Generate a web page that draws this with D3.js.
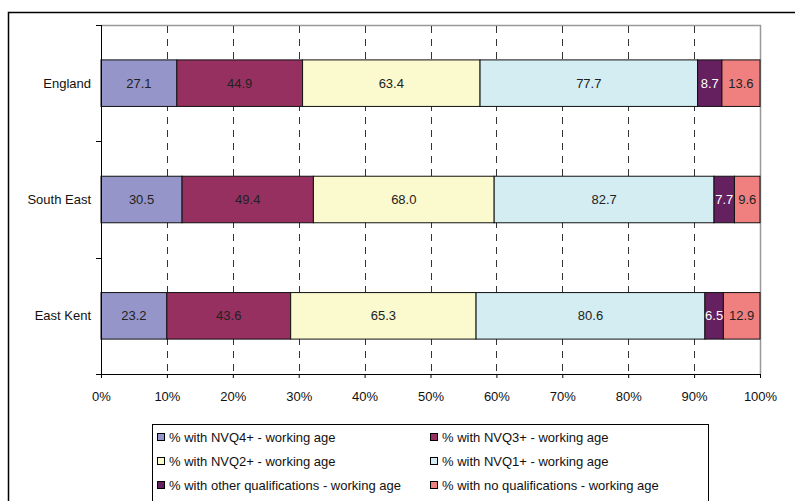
<!DOCTYPE html>
<html>
<head>
<meta charset="utf-8">
<script src="https://cdn.jsdelivr.net/npm/d3@7"></script>
<style>
  body { margin: 0; background: #fff; }
  text { font-family: "Liberation Sans", Arial, sans-serif; }
</style>
</head>
<body>
<div id="chart"></div>
<script>
const areas = ["England", "South East", "East Kent"];
const seriesNames = [
  "% with NVQ4+ - working age",
  "% with NVQ3+ - working age",
  "% with NVQ2+ - working age",
  "% with NVQ1+ - working age",
  "% with other qualifications - working age",
  "% with no qualifications - working age"
];
const nvq4 = [27.1, 30.5, 23.2];
const nvq3 = [44.9, 49.4, 43.6];
const nvq2 = [63.4, 68.0, 65.3];
const nvq1 = [77.7, 82.7, 80.6];
const other = [8.7, 7.7, 6.5];
const none = [13.6, 9.6, 12.9];
const xTicks = [0, 10, 20, 30, 40, 50, 60, 70, 80, 90, 100];

const colors = ["#9595c9", "#963060", "#fbf9ce", "#d3edf3", "#64205f", "#f08080"];
const labelColors = ["#222", "#222", "#222", "#222", "#fff", "#222"];

const W = 795, H = 501;
const M = { left: 101, right: 35, top: 25, bottom: 127 };
const innerW = W - M.left - M.right;
const innerH = H - M.top - M.bottom;
const FS = 13;

const svg = d3.select("#chart").append("svg")
  .attr("width", W).attr("height", H);

// outer chart border
svg.append("rect")
  .attr("x", 8.5).attr("y", 12.5)
  .attr("width", 820).attr("height", 520)
  .attr("fill", "none").attr("stroke", "#000").attr("stroke-width", 1.5);

const g = svg.append("g").attr("transform", `translate(${M.left},${M.top})`);

const values = [nvq4, nvq3, nvq2, nvq1, other, none];
const rows = areas.map((a, i) => {
  const row = { area: a };
  seriesNames.forEach((s, j) => row[s] = values[j][i]);
  return row;
});
const stacked = d3.stack().keys(seriesNames).offset(d3.stackOffsetExpand)(rows);

const x = d3.scaleLinear().domain([0, 1]).range([0, innerW]);
const y = d3.scaleBand().domain(areas).range([0, innerH]).paddingInner(0.6).paddingOuter(0.3);

// plot frame (top & right gray)
g.append("path")
  .attr("d", `M0,0.5H${innerW + 0.5}V${innerH}`)
  .attr("fill", "none").attr("stroke", "#999").attr("stroke-width", 1.5);

// dashed gridlines
g.selectAll(".grid").data(xTicks.slice(1, -1)).join("line")
  .attr("x1", d => Math.round(x(d / 100)) + 0.5).attr("x2", d => Math.round(x(d / 100)) + 0.5)
  .attr("y1", 1).attr("y2", innerH)
  .attr("stroke", "#333").attr("stroke-width", 1)
  .attr("stroke-dasharray", "7,6");

// bars
const layer = g.selectAll(".layer").data(stacked).join("g")
  .attr("fill", (d, i) => colors[i]);
layer.selectAll("rect").data(d => d).join("rect")
  .attr("x", d => x(d[0]))
  .attr("width", d => x(d[1]) - x(d[0]))
  .attr("y", d => y(d.data.area))
  .attr("height", y.bandwidth())
  .attr("stroke", "#111").attr("stroke-width", 1);

// value labels
stacked.forEach((s, i) => {
  g.selectAll(".lbl" + i).data(s).join("text")
    .attr("x", d => (x(d[0]) + x(d[1])) / 2)
    .attr("y", d => y(d.data.area) + y.bandwidth() / 2)
    .attr("dy", "0.35em")
    .attr("text-anchor", "middle")
    .attr("font-size", FS)
    .attr("fill", labelColors[i])
    .text(d => d.data[s.key].toFixed(1));
});

// y axis
const yBound = d3.scaleLinear().domain([0, areas.length]).range([0, innerH]);
g.append("line").attr("x1", 0.5).attr("x2", 0.5).attr("y1", 0).attr("y2", innerH)
  .attr("stroke", "#000");
g.selectAll(".ytick").data(d3.range(areas.length + 1)).join("line")
  .attr("x1", -5).attr("x2", 0)
  .attr("y1", d => Math.round(yBound(d)) + 0.5).attr("y2", d => Math.round(yBound(d)) + 0.5)
  .attr("stroke", "#000");
g.selectAll(".ylbl").data(areas).join("text")
  .attr("x", -10)
  .attr("y", d => y(d) + y.bandwidth() / 2)
  .attr("dy", "0.35em")
  .attr("text-anchor", "end")
  .attr("font-size", FS)
  .attr("fill", "#111")
  .text(d => d);

// x axis
const xAxis = g.append("g").attr("transform", `translate(0,${innerH})`)
  .call(d3.axisBottom(x).tickValues(xTicks.map(d => d / 100))
    .tickFormat(d => Math.round(d * 100) + "%").tickSize(4).tickPadding(14));
xAxis.select(".domain").attr("stroke", "#000").attr("d", `M-5,0.5H${innerW}`);
xAxis.selectAll(".tick line").attr("stroke", "#000");
xAxis.selectAll(".tick text").attr("font-size", FS).attr("fill", "#111")
  .attr("font-family", "Liberation Sans, Arial, sans-serif");

// legend
const lg = svg.append("g").attr("transform", "translate(152,424)");
lg.append("rect").attr("x", 0.5).attr("y", 0.5).attr("width", 556).attr("height", 100)
  .attr("fill", "#fff").attr("stroke", "#000");
seriesNames.forEach((s, i) => {
  const col = i % 2, row = Math.floor(i / 2);
  const item = lg.append("g").attr("transform", `translate(${col ? 278 : 5},${13 + row * 24})`);
  item.append("rect").attr("x", 0.5).attr("y", -3.5).attr("width", 7).attr("height", 7)
    .attr("fill", colors[i]).attr("stroke", "#000");
  item.append("text").attr("x", 12).attr("y", 0).attr("dy", "0.35em")
    .attr("font-size", FS).attr("fill", "#111").text(s);
});
</script>
</body>
</html>
